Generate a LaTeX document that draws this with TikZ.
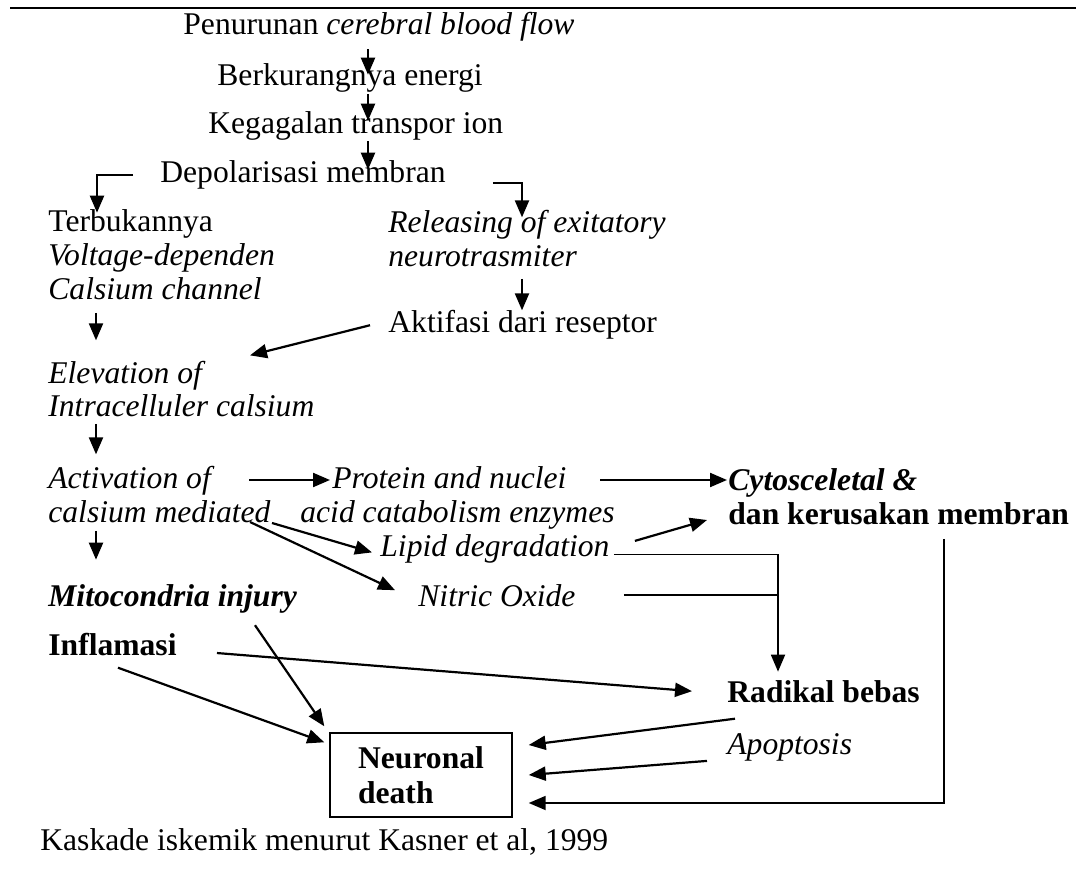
\documentclass[tikz,border=0pt]{standalone}
\usepackage{fontspec}
\setmainfont{Liberation Serif}
\usetikzlibrary{arrows.meta}
\tikzset{
  >={Triangle[length=8.5pt,width=7pt]},
  txt/.style={inner sep=0pt, anchor=base west, align=left, font=\fontsize{15.8}{17}\selectfont},
  arr/.style={->, line width=1.1pt},
  link/.style={line width=0.9pt},
}
\begin{document}
\begin{tikzpicture}[x=0.5pt,y=-0.5pt]
	\useasboundingbox (0,0) rectangle (1076,871);

	% rule
	\draw[line width=1.2pt] (10,8) -- (1076,8);

	% main chain
	\node[txt] (pen) at (183,35) {Penurunan \textit{cerebral blood flow}};
	\node[txt] (berk) at (217,86) {Berkurangnya energi};
	\node[txt] (keg) at (208,134) {Kegagalan transpor ion};
	\node[txt] (depol) at (160,183) {Depolarisasi membran};
	\coordinate (spine) at (368,0);

	% left branch (multi-line nodes sit on their last baseline)
	\node[txt] (terbuka) at (48,300) {Terbukannya\\\textit{Voltage-dependen}\\\textit{Calsium channel}};
	\node[txt] (elev) at (48,417) {\textit{Elevation of}\\\textit{Intracelluler calsium}};
	\node[txt] (activ) at (48,522) {\textit{Activation of}\\\textit{calsium mediated}};
	\node[txt] (mito) at (48,606) {\textbf{\textit{Mitocondria injury}}};
	\node[txt] (infl) at (48,655) {\textbf{Inflamasi}};

	% right branch
	\node[txt] (releasing) at (388,267) {\textit{Releasing of exitatory}\\\textit{neurotrasmiter}};
	\node[txt] (aktif) at (388,333) {Aktifasi dari reseptor};
	\node[txt] (protein) at (300,522) {\hspace*{16pt}\textit{Protein and nuclei}\\\textit{acid catabolism enzymes}};
	\node[txt] (cyto) at (728,524) {\textbf{\textit{Cytosceletal \&}}\\\textbf{dan kerusakan membran}};
	\node[txt] (lipid) at (380,556) {\textit{Lipid degradation}};
	\node[txt] (nitric) at (418,606) {\textit{Nitric Oxide}};
	\node[txt] (radikal) at (727,702) {\textbf{Radikal bebas}};
	\node[txt] (apop) at (727,754) {\textit{Apoptosis}};

	% outcome
	\node[draw, line width=0.7pt, minimum width=91pt, minimum height=42pt, align=left,
		font=\fontsize{15.8}{17.5}\selectfont\bfseries] (death) at (421,775) {Neuronal\\death};

	% caption
	\node[txt] (caption) at (40,850) {Kaskade iskemik menurut Kasner et al, 1999};

	% arrows, main chain
	\draw[arr] ([yshift=-3.5pt]pen.south -| spine) -- ([yshift=-5.5pt]berk.north -| spine);
	\draw[arr] ([yshift=-0.5pt]berk.south -| spine) -- ([yshift=-4.5pt]keg.north -| spine);
	\draw[arr] ([yshift=0pt]keg.south -| spine) -- ([yshift=-4.5pt]depol.north -| spine);
	\draw[arr] ([xshift=-13.5pt]depol.west) -| ([xshift=24.5pt,yshift=-1.5pt]terbuka.north west);
	\draw[arr] ([xshift=23.5pt,yshift=-4pt]depol.east) -| ([xshift=67pt,yshift=-3.5pt]releasing.north west);

	% arrows, left branch
	\draw[arr] ([xshift=24pt,yshift=-6pt]terbuka.south west) -- ([xshift=24pt,yshift=10pt]elev.north west);
	\draw[arr] ([xshift=24pt,yshift=-3pt]elev.south west) -- ([xshift=24pt,yshift=5.5pt]activ.north west);
	\draw[arr] ([xshift=24pt,yshift=-4pt]activ.south west) -- ([xshift=24pt,yshift=12pt]mito.north west);

	% arrows, right branch
	\draw[arr] ([xshift=67pt,yshift=-5.5pt]releasing.south west) -- ([xshift=67pt]aktif.north west);
	\draw[arr] ([xshift=-9pt]aktif.west) -- ([xshift=101pt,yshift=2.5pt]elev.north west);
	\draw[arr] ([xshift=100.5pt,yshift=21pt]activ.base west) -- ([xshift=15pt,yshift=21pt]protein.base west);
	\draw[arr] ([xshift=150pt,yshift=21pt]protein.base west) -- ([xshift=-0.5pt,yshift=22pt]cyto.base west);
	\draw[arr] ([xshift=112pt,yshift=-0.5pt]activ.base west) -- ([xshift=-4pt,yshift=-2pt]lipid.west);
	\draw[arr] ([xshift=101pt]activ.base west) -- ([xshift=-11.5pt,yshift=2.5pt]nitric.west);
	\draw[arr] ([xshift=12.5pt,yshift=3.75pt]lipid.east) -- ([xshift=-10.5pt,yshift=2pt]cyto.base west);

	% to radikal bebas
	\coordinate (radin) at ([xshift=25.5pt,yshift=4pt]radikal.north west);
	\draw[link,->] ([xshift=2pt,yshift=-3pt]lipid.east) -| (radin);
	\draw[link] ([xshift=24pt]nitric.east) -- (nitric.east -| radin);
	\draw[arr] ([xshift=20pt,yshift=-4.5pt]infl.east) -- ([xshift=-17.5pt]radikal.west);

	% to neuronal death
	\draw[link,->] ([xshift=108pt,yshift=-7pt]cyto.south west) |- ([xshift=8pt,yshift=-14pt]death.east);
	\draw[arr] ([xshift=103.5pt,yshift=-6pt]mito.south west) -- ([xshift=-2.5pt,yshift=3pt]death.north west);
	\draw[arr] ([xshift=35pt,yshift=-6pt]infl.south west) -- ([xshift=-2.5pt,yshift=-5pt]death.north west);
	\draw[arr] ([xshift=4pt,yshift=-8pt]radikal.south west) -- ([xshift=8pt,yshift=15pt]death.east);
	\draw[arr] ([xshift=-10pt,yshift=-7pt]apop.west) -- ([xshift=8pt]death.east);
\end{tikzpicture}
\end{document}
